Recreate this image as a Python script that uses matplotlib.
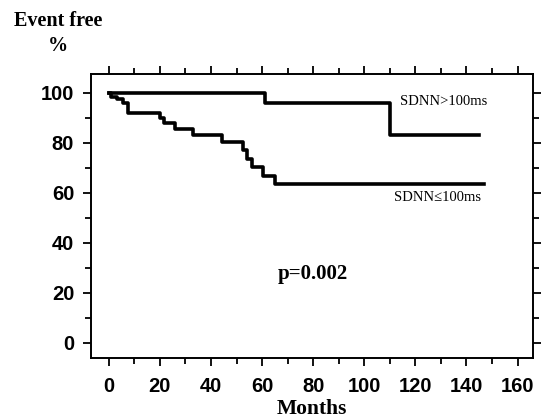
import numpy as np
import matplotlib.pyplot as plt
from matplotlib.ticker import MultipleLocator

plt.rcParams['font.family'] = ['Liberation Sans', 'DejaVu Sans']

# Kaplan-Meier step curves (months, event free %)
high_months = [0, 61, 110, 145]
high_surv = [100, 96, 83, 83]

low_months = [0, 1, 3.3, 5.6, 7.6, 20, 21.5, 26, 33, 44.2, 52.7, 54, 56, 60.5, 65, 147]
low_surv = [100, 98.5, 97.5, 95.9, 91.9, 89.9, 87.9, 85.5, 83.2, 80.5, 77.2, 73.5, 70.5, 66.8, 63.5, 63.5]

x_ticks = [0, 20, 40, 60, 80, 100, 120, 140, 160]
y_ticks = [0, 20, 40, 60, 80, 100]

fig = plt.figure(figsize=(5.41, 4.2), dpi=100)
ax = fig.add_axes([0.168, 0.148, 0.817, 0.676])

ax.plot(high_months, high_surv, drawstyle='steps-post', color='black', linewidth=2.6)
ax.plot(low_months, low_surv, drawstyle='steps-post', color='black', linewidth=2.6)

ax.set_xlim(-7, 166)
ax.set_ylim(-6, 107.6)
ax.set_xticks(x_ticks)
ax.set_yticks(y_ticks)
ax.xaxis.set_minor_locator(MultipleLocator(10))
ax.yaxis.set_minor_locator(MultipleLocator(10))
ax.tick_params(which='both', direction='out', top=True, right=True,
               labeltop=False, labelright=False, width=1.3, color='black')
ax.tick_params(which='major', length=6)
ax.tick_params(which='minor', length=4)
for lab in ax.get_xticklabels() + ax.get_yticklabels():
    lab.set_fontweight('bold')
    lab.set_fontsize(14.5)
ax.tick_params(axis='x', pad=8)
ax.tick_params(axis='y', pad=6)
for sp in ax.spines.values():
    sp.set_linewidth(1.4)

ax.set_xlabel('Months', fontsize=15.5, fontweight='bold', family='Liberation Serif', labelpad=2)

fig.text(0.108, 0.975, 'Event free', ha='center', va='top', fontsize=14.5,
         fontweight='bold', family='Liberation Serif')
fig.text(0.108, 0.915, '%', ha='center', va='top', fontsize=14.5,
         fontweight='bold', family='Liberation Serif')

ax.text(148, 96.5, 'SDNN>100ms', ha='right', va='center', fontsize=10.5,
        family='Liberation Serif')
ax.text(145.5, 58, 'SDNN≤100ms', ha='right', va='center', fontsize=10.5,
        family=['Liberation Serif', 'DejaVu Serif'])
ax.text(80, 27.5, 'p=0.002', ha='center', va='center', fontsize=15,
        fontweight='bold', family='Liberation Serif')

fig.savefig('out.png', dpi=100)
